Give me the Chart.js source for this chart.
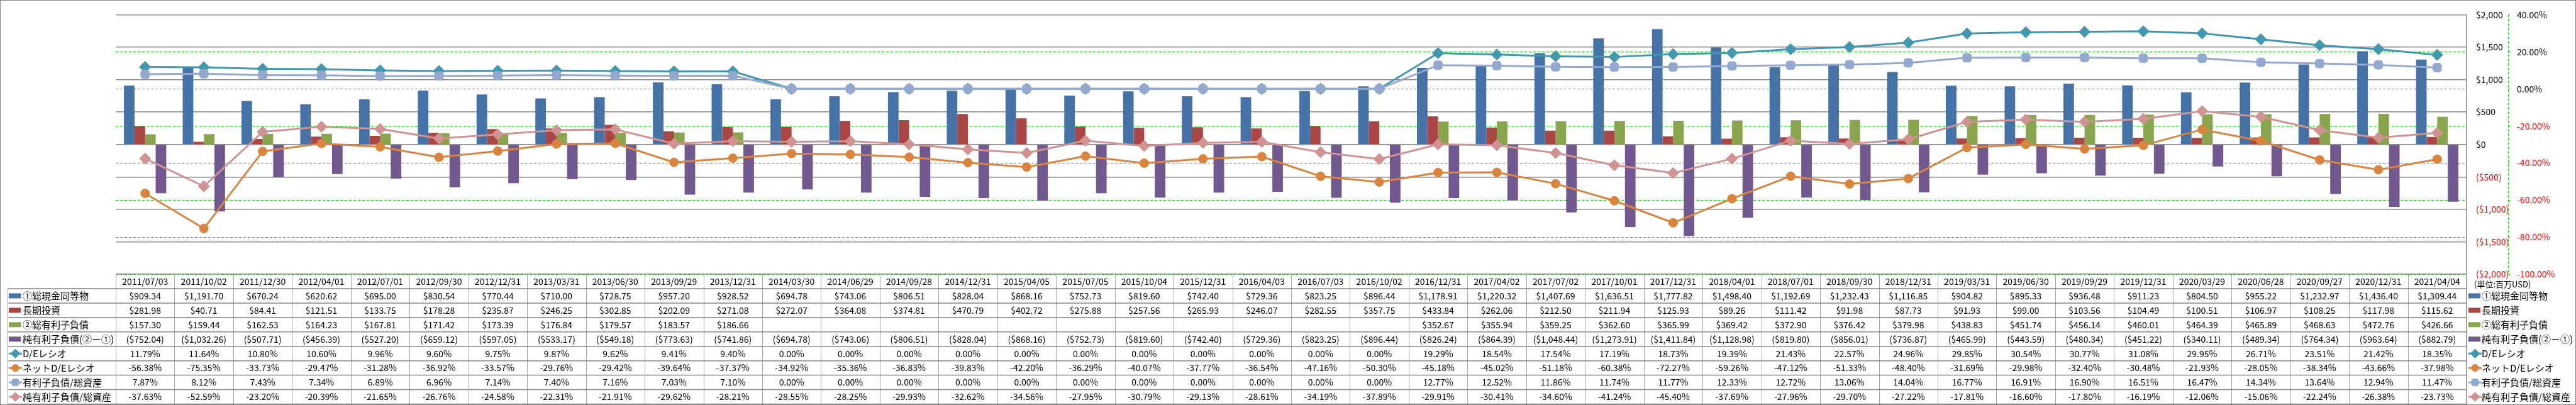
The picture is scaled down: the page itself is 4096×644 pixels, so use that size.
<!DOCTYPE html>
<html>
<head>
<meta charset="utf-8">
<script src="https://cdn.jsdelivr.net/npm/chart.js@4.4.0/dist/chart.umd.min.js"></script>
<style>
  html, body { margin: 0; padding: 0; background: #fff; }
  canvas { display: block; }
</style>
</head>
<body>
<canvas id="chart" width="4096" height="644"></canvas>
<script>
const dates = ['2011/07/03','2011/10/02','2011/12/30','2012/04/01','2012/07/01','2012/09/30','2012/12/31','2013/03/31','2013/06/30','2013/09/29',
  '2013/12/31','2014/03/30','2014/06/29','2014/09/28','2014/12/31','2015/04/05','2015/07/05','2015/10/04','2015/12/31','2016/04/03',
  '2016/07/03','2016/10/02','2016/12/31','2017/04/02','2017/07/02','2017/10/01','2017/12/31','2018/04/01','2018/07/01','2018/09/30',
  '2018/12/31','2019/03/31','2019/06/30','2019/09/29','2019/12/31','2020/03/29','2020/06/28','2020/09/27','2020/12/31','2021/04/04'];

// 百万USD
const cash = [909.34,1191.70,670.24,620.62,695.00,830.54,770.44,710.00,728.75,957.20,
  928.52,694.78,743.06,806.51,828.04,868.16,752.73,819.60,742.40,729.36,
  823.25,896.44,1178.91,1220.32,1407.69,1636.51,1777.82,1498.40,1192.69,1232.43,
  1116.85,904.82,895.33,936.48,911.23,804.50,955.22,1232.97,1436.40,1309.44];
const longInvest = [281.98,40.71,84.41,121.51,133.75,178.28,235.87,246.25,302.85,202.09,
  271.08,272.07,364.08,374.81,470.79,402.72,275.88,257.56,265.93,246.07,
  282.55,357.75,433.84,262.06,212.50,211.94,125.93,89.26,111.42,91.98,
  87.73,91.93,99.00,103.56,104.49,100.51,106.97,108.25,117.98,115.62];
const debt = [157.30,159.44,162.53,164.23,167.81,171.42,173.39,176.84,179.57,183.57,
  186.66,null,null,null,null,null,null,null,null,null,
  null,null,352.67,355.94,359.25,362.60,365.99,369.42,372.90,376.42,
  379.98,438.83,451.74,456.14,460.01,464.39,465.89,468.63,472.76,426.66];
const netDebt = [-752.04,-1032.26,-507.71,-456.39,-527.20,-659.12,-597.05,-533.17,-549.18,-773.63,
  -741.86,-694.78,-743.06,-806.51,-828.04,-868.16,-752.73,-819.60,-742.40,-729.36,
  -823.25,-896.44,-826.24,-864.39,-1048.44,-1273.91,-1411.84,-1128.98,-819.80,-856.01,
  -736.87,-465.99,-443.59,-480.34,-451.22,-340.11,-489.34,-764.34,-963.64,-882.79];

// %
const deRatio = [11.79,11.64,10.80,10.60,9.96,9.60,9.75,9.87,9.62,9.41,
  9.40,0,0,0,0,0,0,0,0,0,
  0,0,19.29,18.54,17.54,17.19,18.73,19.39,21.43,22.57,
  24.96,29.85,30.54,30.77,31.08,29.95,26.71,23.51,21.42,18.35];
const netDeRatio = [-56.38,-75.35,-33.73,-29.47,-31.28,-36.92,-33.57,-29.76,-29.42,-39.64,
  -37.37,-34.92,-35.36,-36.83,-39.83,-42.20,-36.29,-40.07,-37.77,-36.54,
  -47.16,-50.30,-45.18,-45.02,-51.18,-60.38,-72.27,-59.26,-47.12,-51.33,
  -48.40,-31.69,-29.98,-32.40,-30.48,-21.93,-28.05,-38.34,-43.66,-37.98];
const debtToAssets = [7.87,8.12,7.43,7.34,6.89,6.96,7.14,7.40,7.16,7.03,
  7.10,0,0,0,0,0,0,0,0,0,
  0,0,12.77,12.52,11.86,11.74,11.77,12.33,12.72,13.06,
  14.04,16.77,16.91,16.90,16.51,16.47,14.34,13.64,12.94,11.47];
const netDebtToAssets = [-37.63,-52.59,-23.20,-20.39,-21.65,-26.76,-24.58,-22.31,-21.91,-29.62,
  -28.21,-28.55,-28.25,-29.93,-32.62,-34.56,-27.95,-30.79,-29.13,-28.61,
  -34.19,-37.89,-29.91,-30.41,-34.60,-41.24,-45.40,-37.69,-27.96,-29.70,
  -27.22,-17.81,-16.60,-17.80,-16.19,-12.06,-15.06,-22.24,-26.38,-23.73];

const FONT = "'Noto Sans CJK JP', 'Liberation Sans', sans-serif";
const RED = '#ff0000';
const GRID = '#878787';
const LIME = '#00e000';

function usd(v) {
  if (v === null) return '';
  const s = Math.abs(v).toLocaleString('en-US', { minimumFractionDigits: 2, maximumFractionDigits: 2 });
  return v < 0 ? `($${s})` : `$${s}`;
}
function pct(v) { return v.toFixed(2) + '%'; }

const rows = [
  { label: '①総現金同等物', data: cash, fmt: usd, color: '#4572A7', kind: 'bar' },
  { label: '長期投資', data: longInvest, fmt: usd, color: '#AA4643', kind: 'bar' },
  { label: '②総有利子負債', data: debt, fmt: usd, color: '#89A54E', kind: 'bar' },
  { label: '純有利子負債(②－①)', data: netDebt, fmt: usd, color: '#71588F', kind: 'bar' },
  { label: 'D/Eレシオ', data: deRatio, fmt: pct, color: '#4198AF', kind: 'line', point: 'rectRot', r: 9 },
  { label: 'ネットD/Eレシオ', data: netDeRatio, fmt: pct, color: '#DB843D', kind: 'line', point: 'circle', r: 7 },
  { label: '有利子負債/総資産', data: debtToAssets, fmt: pct, color: '#93A9CF', kind: 'line', point: 'rectRounded', r: 8 },
  { label: '純有利子負債/総資産', data: netDebtToAssets, fmt: pct, color: '#D19392', kind: 'line', point: 'rectRot', r: 9 },
];

function drawKey(ctx, x, y, row) {
  ctx.save();
  if (row.kind === 'bar') {
    ctx.fillStyle = row.color;
    ctx.fillRect(x, y - 4, 19, 8);
  } else {
    ctx.strokeStyle = row.color;
    ctx.lineWidth = 3;
    ctx.beginPath(); ctx.moveTo(x, y); ctx.lineTo(x + 21, y); ctx.stroke();
    ctx.fillStyle = row.color;
    ctx.lineWidth = 1;
    Chart.helpers.drawPoint(ctx, { pointStyle: row.point, radius: row.r * 0.8, rotation: 0, borderWidth: 1 }, x + 10.5, y);
  }
  ctx.restore();
}

const tablePlugin = {
  id: 'dataTable',
  beforeDraw(chart) {
    const ctx = chart.ctx;
    ctx.save();
    ctx.fillStyle = '#fff';
    ctx.fillRect(0, 0, chart.width, chart.height);
    ctx.restore();
  },
  afterDraw(chart) {
    const { ctx, chartArea: area, scales: { x, y1 } } = chart;
    const colW = area.width / dates.length;
    const top = area.bottom;
    const rowH = (chart.height - 1.5 - top) / (rows.length + 1);
    const bottom = top + rowH * (rows.length + 1);
    const tableLeft = 12;

    ctx.save();
    // dashed % axis line
    ctx.strokeStyle = LIME;
    ctx.lineWidth = 1;
    ctx.setLineDash([4, 3]);
    ctx.beginPath(); ctx.moveTo(y1.left + 0.5, area.top); ctx.lineTo(y1.left + 0.5, area.bottom); ctx.stroke();
    ctx.setLineDash([]);

    // table grid
    ctx.strokeStyle = '#a6a6a6';
    ctx.lineWidth = 1;
    ctx.beginPath();
    for (let i = 1; i < dates.length; i++) {
      const gx = Math.round(area.left + i * colW) + 0.5;
      ctx.moveTo(gx, top); ctx.lineTo(gx, bottom);
    }
    ctx.moveTo(tableLeft + 0.5, top + rowH); ctx.lineTo(tableLeft + 0.5, bottom);
    ctx.moveTo(area.left + 0.5, top); ctx.lineTo(area.left + 0.5, bottom);
    ctx.stroke();

    ctx.strokeStyle = GRID;
    ctx.lineWidth = 1.5;
    ctx.beginPath();
    ctx.moveTo(area.right, top); ctx.lineTo(area.right, bottom);
    for (let k = 1; k <= rows.length + 1; k++) {
      const gy = top + k * rowH;
      ctx.moveTo(tableLeft, gy); ctx.lineTo(area.right, gy);
    }
    ctx.stroke();

    // header dates
    ctx.fillStyle = '#000';
    ctx.textAlign = 'center';
    ctx.textBaseline = 'middle';
    ctx.font = `14px ${FONT}`;
    dates.forEach((d, i) => ctx.fillText(d, x.getPixelForValue(i), top + rowH / 2));

    // values
    rows.forEach((row, r) => {
      const cy = top + rowH * (r + 1.5);
      row.data.forEach((v, i) => {
        if (v === null) return;
        ctx.fillText(row.fmt(v), x.getPixelForValue(i), cy);
      });
    });

    // row labels (left) and legend (right)
    ctx.textAlign = 'left';
    ctx.font = `15px ${FONT}`;
    rows.forEach((row, r) => {
      const cy = top + rowH * (r + 1.5);
      drawKey(ctx, tableLeft + 2, cy, row);
      ctx.fillStyle = '#000';
      ctx.fillText(row.label, tableLeft + 24, cy);
      drawKey(ctx, area.right + 3, cy, row);
      ctx.fillStyle = '#000';
      ctx.fillText(row.label, area.right + 24, cy);
    });

    ctx.font = `13px ${FONT}`;
    ctx.fillText('(単位:百万USD)', area.right + 12, top + rowH * 0.7);

    // outer frame
    ctx.strokeStyle = GRID;
    ctx.lineWidth = 1;
    ctx.strokeRect(0.5, 0.5, chart.width - 1, chart.height - 1);
    ctx.restore();
  }
};

Chart.defaults.font.family = FONT;
Chart.defaults.color = '#000';

const barDs = (row) => ({
  type: 'bar', label: row.label, data: row.data, yAxisID: 'y', order: 10,
  backgroundColor: row.color, borderWidth: 0, categoryPercentage: 0.72, barPercentage: 1.0
});
const lineDs = (row, order) => ({
  type: 'line', label: row.label, data: row.data, yAxisID: 'y1', order,
  borderColor: row.color, backgroundColor: row.color, borderWidth: 3,
  pointStyle: row.point, pointRadius: row.r, pointBorderWidth: 1, pointBorderColor: row.color,
  pointBackgroundColor: row.color, tension: 0, fill: false
});

new Chart(document.getElementById('chart'), {
  type: 'bar',
  data: {
    labels: dates,
    datasets: [
      barDs(rows[0]), barDs(rows[1]), barDs(rows[2]), barDs(rows[3]),
      lineDs(rows[4], 4), lineDs(rows[5], 3), lineDs(rows[6], 2), lineDs(rows[7], 1)
    ]
  },
  options: {
    responsive: false,
    animation: false,
    devicePixelRatio: 1,
    layout: { padding: { left: 184, top: 10, right: 0, bottom: 208 } },
    plugins: { legend: { display: false }, tooltip: { enabled: false } },
    scales: {
      x: { type: 'category', display: false, offset: true, grid: { display: false } },
      y: {
        position: 'right', weight: 1, min: -2000, max: 2000,
        afterFit: s => { s.width = 66; },
        ticks: {
          stepSize: 500, padding: 15, crossAlign: 'near', font: { size: 14 },
          color: c => c.tick.value < 0 ? RED : '#000',
          callback: v => v < 0 ? `($${Math.abs(v).toLocaleString('en-US')})` : `$${v.toLocaleString('en-US')}`
        },
        grid: { color: GRID, lineWidth: 1.5, drawTicks: false, z: -1 },
        border: { display: true, color: GRID, width: 1.5 }
      },
      y1: {
        position: 'right', weight: 2, min: -100, max: 40,
        afterFit: s => { s.width = 108; },
        ticks: {
          stepSize: 20, padding: 11, crossAlign: 'near', font: { size: 14 },
          color: c => c.tick.value < 0 ? RED : '#000',
          callback: v => pct(v)
        },
        grid: { color: LIME, lineWidth: 1, drawTicks: true, tickLength: 3, tickColor: LIME, z: -2 },
        border: { display: false, dash: [4, 3] }
      }
    }
  },
  plugins: [tablePlugin]
});
</script>
</body>
</html>
